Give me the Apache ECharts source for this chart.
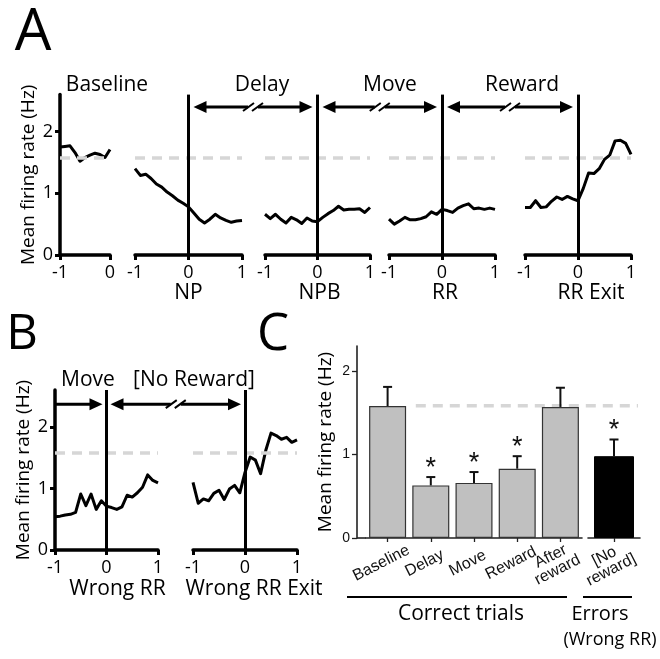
<!DOCTYPE html>
<html><head><meta charset="utf-8">
<script src="https://cdn.jsdelivr.net/npm/echarts@6/dist/echarts.min.js"></script>
<style>html,body{margin:0;padding:0;background:#fff}#c{width:660px;height:659px}</style>
</head><body><div id="c"></div>
<script>
// ---------------- DATA ----------------
const tBase = [-1,-0.9,-0.8,-0.7,-0.6,-0.5,-0.4,-0.3,-0.2,-0.1,0];
const t = [-1,-0.9,-0.8,-0.7,-0.6,-0.5,-0.4,-0.3,-0.2,-0.1,0,0.1,0.2,0.3,0.4,0.5,0.6,0.7,0.8,0.9,1];
const rateBaseline = [1.75,1.76,1.77,1.66,1.52,1.58,1.62,1.65,1.63,1.58,1.71];
const rateNP = [1.40,1.29,1.31,1.24,1.15,1.10,1.02,0.96,0.89,0.84,0.78,0.68,0.58,0.52,0.58,0.66,0.60,0.56,0.53,0.55,0.56];
const rateNPB = [0.66,0.59,0.66,0.58,0.52,0.61,0.57,0.51,0.60,0.55,0.54,0.61,0.67,0.72,0.79,0.73,0.74,0.74,0.75,0.69,0.77];
const rateRR = [0.58,0.50,0.55,0.61,0.57,0.57,0.59,0.62,0.70,0.66,0.74,0.72,0.69,0.76,0.80,0.83,0.75,0.76,0.74,0.76,0.74];
const rateRRExit = [0.77,0.77,0.88,0.77,0.78,0.87,0.94,0.90,0.95,0.91,0.88,1.08,1.33,1.32,1.40,1.55,1.62,1.85,1.86,1.81,1.63];
const rateWrongRR = [0.54,0.55,0.57,0.58,0.61,0.91,0.72,0.91,0.66,0.80,0.71,0.69,0.66,0.70,0.89,0.86,0.93,1.02,1.22,1.13,1.09];
const rateWrongRRExit = [1.10,0.76,0.83,0.80,0.92,0.97,0.82,0.99,1.05,0.93,1.26,1.51,1.46,1.24,1.62,1.90,1.86,1.80,1.83,1.75,1.79];
const baselineMean = 1.585;
const rateTicks = [0,1,2];

const barCats = ['Baseline','Delay','Move','Reward','After\nreward'];
const barMeans = [1.58,0.63,0.66,0.83,1.57];
const barErrTops = [1.81,0.73,0.79,0.98,1.80];
const barStars = [0,1,1,1,0];
const errCats = ['[No\nreward]'];
const errMeans = [0.98];
const errErrTops = [1.18];
const errStars = [1];

// ---------------- LAYOUT ----------------
const FONT = 'Open Sans';
const aTop = 94.6, aH = 160.4, bTop = 390, bH = 160, cTop = 346, cH = 192;
const gridsA = [[60,50],[135,107],[265,105],[389,106],[525,106]];
const gridsB = [[55,103],[193,104]];
const cLeft = 366, cW = 216, eLeft = 588, eW = 52;

const grids = [];
gridsA.forEach(g => grids.push({left:g[0], width:g[1], top:aTop, height:aH, outerBoundsMode:'none'}));
gridsB.forEach(g => grids.push({left:g[0], width:g[1], top:bTop, height:bH, outerBoundsMode:'none'}));
grids.push({left:cLeft, width:cW, top:cTop, height:cH, outerBoundsMode:'none'});
grids.push({left:eLeft, width:eW, top:cTop, height:cH, outerBoundsMode:'none'});

const blk = '#000';
function xAxisTime(gi, max, name, gap, shift) {
  return {type:'value', gridIndex:gi, min:-1, max:max, interval:1,
    axisLine:{show:true, onZero:false, lineStyle:{color:blk, width:3.5}},
    axisTick:{show:true, length:5, lineStyle:{color:blk, width:3}},
    axisLabel:{fontSize:18, color:blk, margin:9, fontFamily:FONT},
    splitLine:{show:false},
    name: name || '', nameLocation:'middle', nameGap: gap || 20,
    nameTextStyle:{fontSize:21, color:blk, fontFamily:FONT, padding:[0,0,0,shift||0]}};
}
function yAxisRate(gi, show, max, nameGap) {
  return {type:'value', gridIndex:gi, min:0, max:max, show:show,
    axisLine:{show:true, onZero:false, lineStyle:{color:blk, width:3.5}},
    axisTick:{show:true, length:5, customValues:rateTicks, lineStyle:{color:blk, width:3}},
    axisLabel:{fontSize:18, color:blk, margin:7, fontFamily:FONT, customValues:rateTicks},
    splitLine:{show:false},
    name: show ? 'Mean firing rate (Hz)' : '', nameLocation:'middle', nameGap:nameGap || 22,
    nameTextStyle:{fontSize:19, color:blk, fontFamily:FONT}};
}

const xAxes = [
  xAxisTime(0, 0, null),
  xAxisTime(1, 1, 'NP', 20, 0),
  xAxisTime(2, 1, 'NPB', 20, 4),
  xAxisTime(3, 1, 'RR', 20, 6),
  xAxisTime(4, 1, 'RR Exit', 20, 26),
  xAxisTime(5, 1, 'Wrong RR', 29, 22),
  xAxisTime(6, 1, 'Wrong RR Exit', 29, 18)
];
const yAxes = [
  yAxisRate(0, true, 2.6, 22),
  yAxisRate(1, false, 2.6), yAxisRate(2, false, 2.6), yAxisRate(3, false, 2.6), yAxisRate(4, false, 2.6),
  yAxisRate(5, true, 2.6, 22), yAxisRate(6, false, 2.6)
];
const catAxisStyle = {
  axisLine:{show:true, onZero:false, lineStyle:{color:'#222', width:1.6}},
  axisTick:{show:true, alignWithLabel:true, length:4, lineStyle:{color:'#222', width:1.3}},
  axisLabel:{interval:0, rotate:27, fontSize:16, lineHeight:15, color:'#111', fontFamily:'Liberation Sans',
    align:'center', verticalAlign:'middle', margin:22, padding:[0,14,0,0]},
  splitLine:{show:false}
};
xAxes.push(Object.assign({type:'category', gridIndex:7, data:barCats}, catAxisStyle));
xAxes.push(Object.assign({type:'category', gridIndex:8, data:errCats}, catAxisStyle));
yAxes.push({type:'value', gridIndex:7, min:0, max:2.3, offset:9,
  axisLine:{show:true, onZero:false, lineStyle:{color:'#222', width:1.6}},
  axisTick:{show:true, length:5, customValues:rateTicks, lineStyle:{color:'#222', width:1.3}},
  axisLabel:{fontSize:14, color:'#111', margin:7, fontFamily:'Liberation Sans', customValues:rateTicks},
  splitLine:{show:false},
  name:'Mean firing rate (Hz)', nameLocation:'middle', nameGap:22,
  nameTextStyle:{fontSize:19, color:blk, fontFamily:FONT}});
yAxes.push({type:'value', gridIndex:8, min:0, max:2.3, show:false});

const dashStyle = {type:[10,7], color:'#d6d6d6', width:3.5};
function lineSeries(gi, xs, ys, zeroLine) {
  const ml = [{yAxis: baselineMean, lineStyle: dashStyle}];
  if (zeroLine) ml.push({xAxis: 0, lineStyle:{type:'solid', color:blk, width:3}});
  return {type:'line', xAxisIndex:gi, yAxisIndex:gi, data: xs.map((x,i)=>[x, ys[i]]),
    showSymbol:false, symbol:'none', z:3,
    lineStyle:{color:blk, width:3, join:'round'},
    markLine:{silent:true, symbol:'none', label:{show:false}, animation:false, data:ml}};
}
function errSeries(gi, means, tops, stars) {
  return {type:'custom', xAxisIndex:gi, yAxisIndex:gi, z:5,
    data: means.map((m,i)=>[i, m, tops[i], stars[i]]),
    encode:{x:0, y:1},
    renderItem(params, api) {
      const p1 = api.coord([api.value(0), api.value(1)]);
      const p2 = api.coord([api.value(0), api.value(2)]);
      const ch = [
        {type:'line', shape:{x1:p1[0], y1:p1[1], x2:p2[0], y2:p2[1]}, style:{stroke:'#111', lineWidth:2}},
        {type:'line', shape:{x1:p2[0]-4.5, y1:p2[1], x2:p2[0]+4.5, y2:p2[1]}, style:{stroke:'#111', lineWidth:2}}
      ];
      if (api.value(3)) ch.push({type:'text', x:p2[0], y:p2[1]-9,
        style:{text:'*', fontSize:27, fontFamily:'Liberation Sans', fill:'#111', align:'center', verticalAlign:'middle'}});
      return {type:'group', children:ch};
    }};
}

const series = [
  lineSeries(0, tBase, rateBaseline, false),
  lineSeries(1, t, rateNP, true),
  lineSeries(2, t, rateNPB, true),
  lineSeries(3, t, rateRR, true),
  lineSeries(4, t, rateRRExit, true),
  lineSeries(5, t, rateWrongRR, true),
  lineSeries(6, t, rateWrongRRExit, true),
  {type:'bar', xAxisIndex:7, yAxisIndex:7, data:barMeans, barWidth:37, z:3,
    itemStyle:{color:'#c0c0c0', borderColor:'#333', borderWidth:1.2}},
  {type:'bar', xAxisIndex:8, yAxisIndex:8, data:errMeans, barWidth:40, z:3,
    itemStyle:{color:'#000', borderColor:'#000', borderWidth:1}},
  errSeries(7, barMeans, barErrTops, barStars),
  errSeries(8, errMeans, errErrTops, errStars)
];

const chart = echarts.init(document.getElementById('c'), null, {renderer:'canvas'});
chart.setOption({animation:false, backgroundColor:'#fff', grid:grids, xAxis:xAxes, yAxis:yAxes, series:series});

// ---------------- ANNOTATIONS ----------------
const P = (g, x, y) => chart.convertToPixel({gridIndex:g}, [x, y]);
const G = [];
function ln(x1,y1,x2,y2,w,c){ G.push({type:'line', shape:{x1,y1,x2,y2}, style:{stroke:c||blk, lineWidth:w||3}, z:10}); }
function txt(s, x, y, size, align, fam){ G.push({type:'text', x, y, z:10,
  style:{text:s, fontSize:size, fontFamily:fam||FONT, fill:blk, align:align||'center', verticalAlign:'middle'}}); }
function arrow(x1, x2, y, left, right, brk) {
  const hl = 13, hh = 6;
  const a = left ? x1 + hl - 1 : x1, b = right ? x2 - hl + 1 : x2;
  if (brk) {
    const m = (x1 + x2) / 2;
    ln(a, y, m - 5, y, 3); ln(m + 5, y, b, y, 3);
    ln(m - 10, y + 4, m + 1, y - 4, 2); ln(m - 1, y + 4, m + 10, y - 4, 2);
  } else ln(a, y, b, y, 3);
  if (left) G.push({type:'polygon', z:10, shape:{points:[[x1,y],[x1+hl,y-hh],[x1+hl,y+hh]]}, style:{fill:blk}});
  if (right) G.push({type:'polygon', z:10, shape:{points:[[x2,y],[x2-hl,y-hh],[x2-hl,y+hh]]}, style:{fill:blk}});
}
// Panel A arrows
const yA = P(1, 0, 2.4)[1];
const z1 = P(1,0,0)[0], z2 = P(2,0,0)[0], z3 = P(3,0,0)[0], z4 = P(4,0,0)[0];
arrow(z1 + 5, z2 - 5, yA, true, true, true);
arrow(z2 + 5, z3 - 5, yA, true, true, true);
arrow(z3 + 5, z4 - 5, yA, true, true, true);
// Panel B arrows
const yB = P(5, 0, 2.37)[1];
const b0 = P(5,-1,0)[0], b1 = P(5,0,0)[0], b2 = P(6,0,0)[0];
arrow(b0, b1 - 4, yB, false, true, false);
arrow(b1 + 4, b2 - 4, yB, true, true, true);
// Titles
txt('Baseline', 107, 85, 21); txt('Delay', 262, 85, 21); txt('Move', 390, 85, 21); txt('Reward', 522, 85, 21);
txt('Move', 88, 380, 21); txt('[No Reward]', 194, 380, 21);
// Panel letters
txt('A', 33, 33, 58); txt('B', 22, 335, 49); txt('C', 273, 335, 51);
// Panel C extras
const cBase = P(7, 0, 0)[1];
ln(cLeft - 9, cBase, cLeft, cBase, 1.6, '#222');
const yRef = P(7, 0, baselineMean)[1];
G.push({type:'line', z:1, shape:{x1:P(7,1,0)[0]-15, y1:yRef, x2:P(8,0,0)[0]+24, y2:yRef},
  style:{stroke:'#d6d6d6', lineWidth:3.5, lineDash:[10,7]}});
ln(347, 597, 567, 597, 2); ln(583, 597, 632, 597, 2);
txt('Correct trials', 461, 614, 21); txt('Errors', 600, 614, 20); txt('(Wrong RR)', 610, 640, 18);
chart.setOption({graphic:{elements:G}});
</script></body></html>
